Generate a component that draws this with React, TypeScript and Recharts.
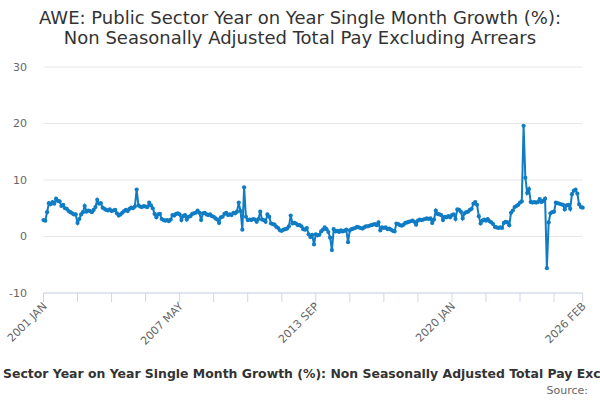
import { CartesianGrid, Line, LineChart, XAxis, YAxis } from "recharts";

// AWE public sector, year on year single month growth (%), NSA total pay excl. arrears
// monthly from 2001 JAN to 2026 FEB (302 points)
const growth = [
  2.9, 2.8, 4.3, 5.9, 5.7, 6.1, 5.8, 6.7, 6.3, 6.2, 5.4, 5.6, // 2001
  5.0, 4.9, 4.5, 4.3, 4.1, 3.9, 3.9, 2.4, 3.1, 3.9, 4.3, 5.4, // 2002
  4.4, 4.6, 4.5, 4.3, 4.7, 5.2, 6.5, 5.8, 5.9, 5.1, 4.9, 4.7, // 2003
  4.6, 4.8, 4.5, 4.6, 4.7, 4.1, 3.7, 3.9, 4.2, 4.5, 4.7, 4.5, // 2004
  4.9, 5.1, 5.0, 5.3, 8.3, 5.5, 5.3, 5.2, 5.4, 5.3, 5.2, 6.0, // 2005
  5.5, 5.0, 4.0, 3.4, 3.9, 4.0, 3.1, 2.9, 2.8, 2.9, 2.7, 3.0, // 2006
  3.8, 3.7, 4.0, 4.1, 3.9, 2.9, 3.6, 3.8, 3.0, 3.5, 3.6, 4.0, // 2007
  4.1, 4.2, 4.6, 4.2, 2.9, 4.1, 4.2, 3.9, 3.8, 3.9, 3.6, 3.5, // 2008
  3.2, 3.0, 2.4, 3.4, 3.5, 4.0, 4.2, 3.8, 3.9, 3.8, 4.2, 4.1, // 2009
  4.4, 6.0, 4.5, 1.2, 8.7, 3.5, 2.9, 3.0, 2.9, 3.1, 3.0, 2.6, // 2010
  3.1, 4.4, 3.0, 2.9, 2.6, 3.9, 3.5, 2.3, 2.2, 2.1, 1.7, 1.5, // 2011
  1.1, 1.0, 1.2, 1.3, 1.4, 1.8, 3.7, 2.3, 2.4, 2.3, 2.0, 2.0, // 2012
  1.8, 1.3, 1.2, 1.5, 0.4, -0.1, 0.3, -1.4, 0.4, 0.2, 0.3, 0.9, // 2013
  1.2, 1.6, 1.3, 0.8, -0.2, -2.4, 1.3, 0.9, 1.0, 0.8, 1.1, 0.9, // 2014
  1.0, 1.2, -1.0, 1.1, 1.3, 1.4, 1.5, 1.7, 1.6, 1.5, 1.4, 1.6, // 2015
  1.8, 1.8, 1.9, 2.0, 2.1, 2.2, 2.0, 2.5, 1.1, 1.6, 1.5, 1.6, // 2016
  1.3, 1.4, 1.2, 1.0, 0.9, 2.3, 2.2, 2.0, 1.9, 2.1, 2.4, 2.5, // 2017
  2.6, 2.7, 2.8, 2.6, 2.1, 2.8, 3.0, 2.9, 3.0, 3.1, 3.2, 3.1, // 2018
  3.2, 2.4, 3.0, 4.6, 4.0, 3.9, 3.8, 2.9, 3.5, 3.4, 3.6, 3.4, // 2019
  3.8, 3.9, 3.1, 4.8, 4.7, 4.4, 3.2, 4.1, 4.3, 4.4, 4.7, 4.9, // 2020
  5.8, 6.1, 5.6, 3.6, 2.3, 2.8, 3.0, 2.8, 3.1, 2.7, 2.5, 2.2, // 2021
  1.7, 1.6, 1.5, 1.6, 1.5, 2.4, 2.6, 2.5, 2.0, 4.2, 4.6, 5.2, // 2022
  5.4, 5.6, 6.0, 6.2, 19.6, 10.4, 7.7, 8.4, 6.1, 6.0, 6.1, 6.0, // 2023
  6.1, 6.6, 6.1, 6.3, 6.7, -5.6, 2.5, 4.1, 4.3, 4.4, 6.0, 5.9, // 2024
  5.8, 5.7, 5.6, 4.8, 5.5, 5.6, 4.9, 7.5, 8.1, 8.3, 7.6, 5.7, // 2025
  5.2, 5.1, // 2026
];

const MONTHS = ["JAN", "FEB", "MAR", "APR", "MAY", "JUN", "JUL", "AUG", "SEP", "OCT", "NOV", "DEC"];
const FIRST_YEAR = 2001;

const yTicks = [-10, 0, 10, 20, 30];
const xTicks = [0, 19, 38, 57, 76, 95, 114, 133, 152, 171, 190, 209, 228, 247, 266, 285, 301];
const xLabelled = [0, 76, 152, 228, 301];

const BLUE = "#0f7cc4";
const AXIS_LINE = "#ccd6eb";
const FONT = "'DejaVu Sans', Verdana, sans-serif";

function monthLabel(i: number) {
  return `${FIRST_YEAR + Math.floor(i / 12)} ${MONTHS[i % 12]}`;
}

const data = growth.map((value, i) => ({ i, month: monthLabel(i), value }));

function XTick(props: any) {
  const { x, y, payload } = props;
  const show = xLabelled.includes(payload.value);
  return (
    <g>
      <line x1={x} x2={x} y1={y} y2={y + 9} stroke={AXIS_LINE} strokeWidth={1} />
      {show && (
        <text
          x={x + 4}
          y={y + 14}
          textAnchor="end"
          fontSize={11}
          fill="#666"
          fontFamily={FONT}
          transform={`rotate(-45 ${x + 4} ${y + 14})`}
        >
          {monthLabel(payload.value)}
        </text>
      )}
    </g>
  );
}

export default function App() {
  return (
    <div
      style={{
        position: "absolute",
        left: 0,
        top: 0,
        width: 600,
        height: 400,
        overflow: "hidden",
        background: "#fff",
        fontFamily: FONT,
      }}
    >
      <div style={{ position: "absolute", top: 8, left: 0, width: 600, textAlign: "center", fontSize: 18, lineHeight: "20px", color: "#333" }}>
        <div>AWE: Public Sector Year on Year Single Month Growth (%):</div>
        <div>Non Seasonally Adjusted Total Pay Excluding Arrears</div>
      </div>

      <LineChart width={600} height={400} data={data} margin={{ top: 67, right: 17.3, bottom: 47, left: 0 }}>
        <CartesianGrid vertical={false} stroke="#e6e6e6" />
        <XAxis
          dataKey="i"
          type="number"
          domain={[0, 301]}
          ticks={xTicks}
          interval={0}
          height={60}
          tickSize={0}
          tickMargin={0}
          tickLine={false}
          axisLine={{ stroke: AXIS_LINE }}
          tick={<XTick />}
        />
        <YAxis
          domain={[-10, 30]}
          ticks={yTicks}
          width={43.5}
          axisLine={false}
          tickLine={false}
          tickSize={0}
          tickMargin={16.5}
          tick={{ fontSize: 11, fill: "#666", fontFamily: FONT }}
        />
        <Line
          type="linear"
          dataKey="value"
          stroke={BLUE}
          strokeWidth={2}
          dot={{ r: 2.1, fill: BLUE, stroke: BLUE, strokeWidth: 0 }}
          activeDot={false}
          isAnimationActive={false}
        />
      </LineChart>

      <div style={{ position: "absolute", top: 366, left: -44, whiteSpace: "nowrap", fontSize: 12.45, fontWeight: "bold", color: "#333" }}>
        Public Sector Year on Year Single Month Growth (%): Non Seasonally Adjusted Total Pay Excluding Arrears
      </div>
      <div style={{ position: "absolute", top: 384, right: 12, fontSize: 11, color: "#666" }}>Source:</div>
    </div>
  );
}
